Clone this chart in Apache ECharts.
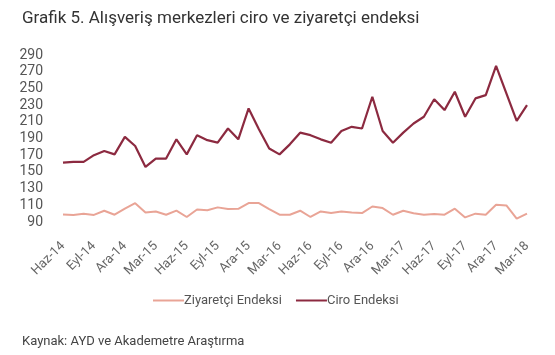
<!DOCTYPE html>
<html>
<head>
<meta charset="utf-8">
<script src="https://cdn.jsdelivr.net/npm/echarts@6/dist/echarts.min.js"></script>
<style>
html,body{margin:0;padding:0;background:#fff;}
#c{width:555px;height:355px;}
</style>
</head>
<body>
<div id="c"></div>
<script>
const titleText = "Grafik 5. Alışveriş merkezleri ciro ve ziyaretçi endeksi";
const sourceText = "Kaynak: AYD ve Akademetre Araştırma";
const seriesNames = ["Ziyaretçi Endeksi", "Ciro Endeksi"];
const categories = [
  "Haz-14","Tem-14","Ağu-14","Eyl-14","Eki-14","Kas-14","Ara-14","Oca-15","Şub-15","Mar-15","Nis-15","May-15",
  "Haz-15","Tem-15","Ağu-15","Eyl-15","Eki-15","Kas-15","Ara-15","Oca-16","Şub-16","Mar-16","Nis-16","May-16",
  "Haz-16","Tem-16","Ağu-16","Eyl-16","Eki-16","Kas-16","Ara-16","Oca-17","Şub-17","Mar-17","Nis-17","May-17",
  "Haz-17","Tem-17","Ağu-17","Eyl-17","Eki-17","Kas-17","Ara-17","Oca-18","Şub-18","Mar-18"
];
const ziyaretci = [
  99,98.5,100,98.5,103.5,98.7,106,112.5,101.5,102.5,98.7,103.7,
  96,105,104,107.5,105.5,105.8,112.7,112.7,105.5,98.7,98.7,103.5,
  96,102.6,100.7,102.6,101.5,100.7,108.6,106.7,98.7,103.5,100.5,98.7,
  99.5,98.7,106,95.5,100,98.7,110.6,109.8,94,100
];
const ciro = [
  161,162,162,170,175,171,192,181,156,166,166,189,
  171,194,188,185,202,189,226,201,178,171,183,197,
  194,189,185,199,204,202,240,199,185,197,208,216,
  237,224,246,216,238,242,277,244,211,230
];
const yMin = 90, yMax = 290, yStep = 10, yLabelStep = 20;

const chart = echarts.init(document.getElementById('c'), null, {renderer:'canvas'});
chart.setOption({
  backgroundColor:'#fff',
  animation:false,
  textStyle:{fontFamily:'Roboto'},
  title:[
    {text:titleText,left:17,top:5,textStyle:{fontFamily:'Roboto',fontSize:17,fontWeight:'normal',color:'#333'}},
    {text:sourceText,left:17,top:330,textStyle:{fontFamily:'Roboto',fontSize:13,fontWeight:'normal',color:'#444'}}
  ],
  legend:{
    data:seriesNames,
    left:148, top:289,
    itemWidth:31, itemHeight:2, itemGap:14,
    icon:'rect',
    textStyle:{fontFamily:'Roboto',fontSize:13,color:'#555',padding:[0,0,0,-5]}
  },
  grid:{left:63,right:28,top:55,bottom:133,containLabel:false},
  xAxis:{
    type:'category',
    data:categories,
    boundaryGap:false,
    axisLine:{show:false},
    axisTick:{show:false},
    axisLabel:{interval:2,rotate:45,margin:22,fontFamily:'Roboto',fontSize:13,color:'#666'}
  },
  yAxis:{
    type:'value',
    min:yMin,max:yMax,interval:yStep,
    splitLine:{show:false},
    axisLine:{show:false},
    axisTick:{show:false},
    axisLabel:{
      margin:20,fontFamily:'Roboto',fontSize:14,color:'#555',
      formatter:function(v){return ((v-yMin)%yLabelStep===0)?String(v):'';}
    }
  },
  series:[
    {name:seriesNames[0],type:'line',data:ziyaretci,symbol:'none',lineStyle:{width:2,color:'#e9a496'},itemStyle:{color:'#e9a496'}},
    {name:seriesNames[1],type:'line',data:ciro,symbol:'none',lineStyle:{width:2.2,color:'#8c2a40'},itemStyle:{color:'#8c2a40'}}
  ]
});
</script>
</body>
</html>
